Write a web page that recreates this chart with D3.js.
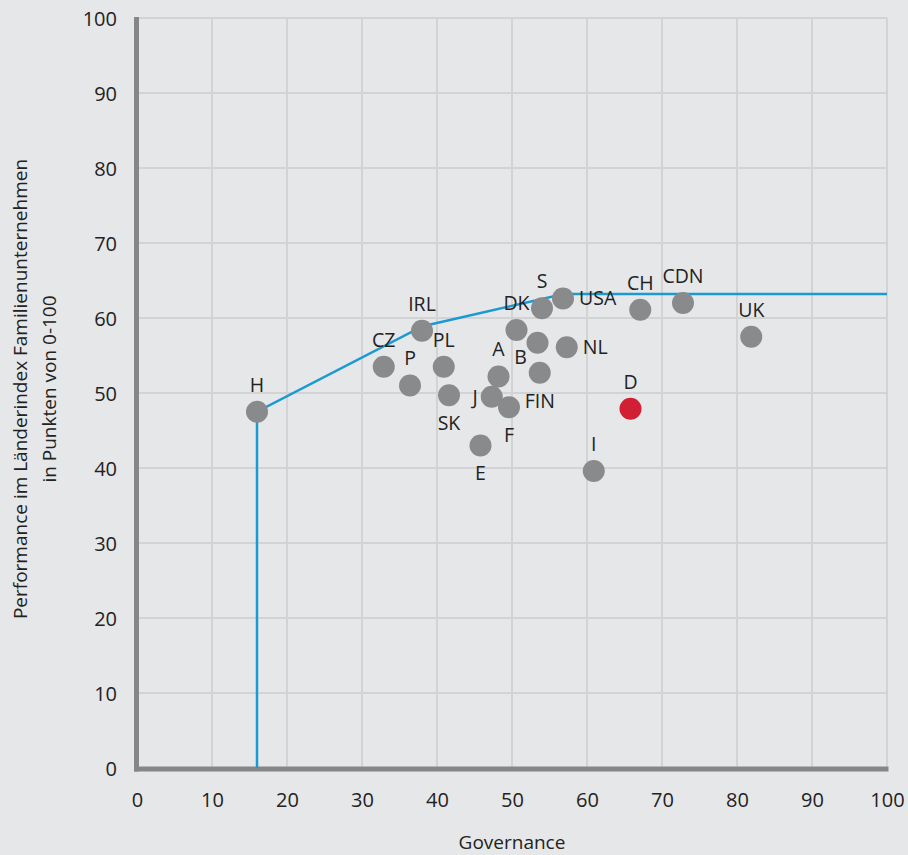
<!DOCTYPE html>
<html>
<head>
<meta charset="utf-8">
<script src="https://cdn.jsdelivr.net/npm/d3@7"></script>
<style>
  html, body { margin: 0; padding: 0; background: #e6e7e9; }
  svg { display: block; }
  text { font-family: "Open Sans", "Noto Sans", sans-serif; fill: #222; }
</style>
</head>
<body>
<svg id="chart" width="908" height="855"></svg>
<script>
// ---- data ----
const countries = ["H","CZ","P","IRL","PL","SK","A","J","F","E","DK","B","FIN","S","USA","NL","I","D","CH","CDN","UK"];
const governance = [16.0,32.9,36.4,38.0,40.9,41.6,48.2,47.3,49.6,45.8,50.6,53.4,53.7,54.0,56.8,57.3,60.9,65.8,67.1,72.8,81.9];
const performance = [47.5,53.5,51.0,58.3,53.5,49.7,52.2,49.5,48.1,43.0,58.4,56.7,52.7,61.3,62.6,56.1,39.6,47.9,61.1,62.0,57.5];
const highlighted = ["D"];
// efficiency frontier (governance, performance)
const frontierX = [16.0, 16.0, 38.1, 56.9, 100];
const frontierY = [0, 47.5, 58.9, 63.2, 63.2];
const xTicks = [0,10,20,30,40,50,60,70,80,90,100];
const yTicks = [0,10,20,30,40,50,60,70,80,90,100];
const xTitle = "Governance";
const yTitle = ["Performance im Länderindex Familienunternehmen", "in Punkten von 0-100"];

// ---- label placement (layout) ----
const labelPlace = {
  SK: "below", F: "below", E: "below", FIN: "below",
  J: "left", USA: "right", NL: "right", B: "lowleft"
};

// ---- chart ----
const svg = d3.select("#chart");
const W = 908, H = 855;
svg.append("rect").attr("width", W).attr("height", H).attr("fill", "#e6e7e9");

const x = d3.scaleLinear().domain([0, 100]).range([137, 887]);
const y = d3.scaleLinear().domain([0, 100]).range([768, 18]);

// grid
const grid = svg.append("g");
grid.selectAll("line.v").data(xTicks.filter(d => d > 0)).join("line")
  .attr("x1", d => x(d)).attr("x2", d => x(d))
  .attr("y1", y(100)).attr("y2", y(0))
  .attr("stroke", "#d2d3d5").attr("stroke-width", 2);
grid.selectAll("line.h").data(yTicks.filter(d => d > 0)).join("line")
  .attr("x1", x(0)).attr("x2", x(100))
  .attr("y1", d => y(d)).attr("y2", d => y(d))
  .attr("stroke", "#d2d3d5").attr("stroke-width", 2);

// axes
const xAxis = d3.axisBottom(x).tickValues(xTicks).tickSize(0).tickPadding(0);
const gx = svg.append("g").attr("transform", `translate(0,${y(0)})`).call(xAxis);
gx.select(".domain").remove();
gx.selectAll("text").attr("y", 39).attr("dy", 0).style("font-size", "20px").attr("fill", "#222");

const yAxis = d3.axisLeft(y).tickValues(yTicks).tickSize(0).tickPadding(0);
const gy = svg.append("g").attr("transform", `translate(${x(0)},0)`).call(yAxis);
gy.select(".domain").remove();
gy.selectAll("text").attr("x", -20).attr("dy", "0.35em").style("font-size", "20px").attr("fill", "#222");

// axis lines
svg.append("line").attr("x1", x(0) - 0.5).attr("x2", x(0) - 0.5)
  .attr("y1", y(100) - 1).attr("y2", y(0) + 3.5)
  .attr("stroke", "#858688").attr("stroke-width", 5);
svg.append("line").attr("x1", x(0) - 3).attr("x2", x(100) + 1.5)
  .attr("y1", y(0) + 1).attr("y2", y(0) + 1)
  .attr("stroke", "#858688").attr("stroke-width", 5);

// frontier
const frontier = frontierX.map((v, i) => [v, frontierY[i]]);
svg.append("path")
  .attr("d", d3.line().x(d => x(d[0])).y(d => y(d[1]))(frontier))
  .attr("fill", "none").attr("stroke", "#1b9ad2").attr("stroke-width", 2.5);

// points
const pts = countries.map((c, i) => ({c, gx: governance[i], p: performance[i], hi: highlighted.includes(c)}));
svg.append("g").selectAll("circle").data(pts).join("circle")
  .attr("cx", d => x(d.gx)).attr("cy", d => y(d.p)).attr("r", 11)
  .attr("fill", d => d.hi ? "#d11f33" : "#898a8c");

// labels
svg.append("g").selectAll("text").data(pts).join("text")
  .each(function(d) {
    const t = d3.select(this);
    const px = x(d.gx), py = y(d.p);
    const place = labelPlace[d.c] || "above";
    let tx = px, ty = py - 27, anchor = "middle";
    if (place === "below") { ty = py + 28; }
    if (place === "left") { tx = px - 14; ty = py; anchor = "end"; }
    if (place === "right") { tx = px + 16; ty = py; anchor = "start"; }
    if (place === "lowleft") { tx = px - 17; ty = py + 14; }
    t.attr("x", tx).attr("y", ty).attr("dy", "0.35em").attr("text-anchor", anchor);
  })
  .text(d => d.c)
  .style("font-size", "19.5px")
  .attr("fill", d => d.hi ? "#d11f33" : "#222");

// axis titles
svg.append("text").attr("x", 512).attr("y", 842).attr("dy", "0.35em")
  .attr("text-anchor", "middle").style("font-size", "19px").text(xTitle);
const yt = svg.append("text").attr("transform", "translate(20,389) rotate(-90)")
  .attr("text-anchor", "middle").style("font-size", "19px");
yTitle.forEach((line, i) => {
  yt.append("tspan").attr("x", 0).attr("y", i * 29).attr("dy", "0.35em").text(line);
});
</script>
</body>
</html>
